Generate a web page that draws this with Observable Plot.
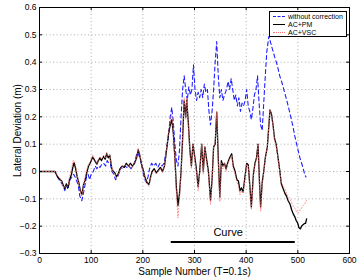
<!DOCTYPE html>
<html><head><meta charset="utf-8">
<script src="https://cdn.jsdelivr.net/npm/d3@7"></script>
<script src="https://cdn.jsdelivr.net/npm/@observablehq/plot@0.6"></script>
<style>
body{margin:0;background:#fff;}
#wrap{position:relative;width:357px;height:277px;font-family:Arial,"Liberation Sans",Helvetica,sans-serif;}
#legend{position:absolute;left:269px;top:11px;width:78px;height:26px;border:1px solid #000;background:#fff;box-sizing:border-box;font-size:7px;color:#000;}
.row{position:absolute;left:3px;height:8px;display:flex;align-items:center;white-space:nowrap;}
.sw{width:12px;height:0;margin-right:3px;}
</style></head>
<body>
<div id="wrap"></div>
<script>
const xDomain = [0, 600];
const yDomain = [-0.3, 0.6];
const xTicks = [0, 100, 200, 300, 400, 500, 600];
const xTickLabels = ["0", "100", "200", "300", "400", "500", "600"];
const yTicks = [-0.3, -0.2, -0.1, 0, 0.1, 0.2, 0.3, 0.4, 0.5, 0.6];
const yTickLabels = ["\u22120.3", "\u22120.2", "\u22120.1", "0", "0.1", "0.2", "0.3", "0.4", "0.5", "0.6"];
const xLabel = "Sample Number (T=0.1s)";
const yLabel = "Lateral Deviation (m)";
const seriesNames = ["without correction", "AC+PM", "AC+VSC"];
const curveLabel = "Curve";
const curveRange = [255, 495];
const curveY = -0.258;
const curveTextX = 365;

// [sample, deviation (m)]
const withoutCorrection = [[0,0],[30,0],[35,-0.02],[40,-0.035],[45,-0.05],[49,-0.07],[52,-0.05],[55,-0.065],[59,-0.03],[63,-0.02],[66,-0.01],[69,-0.02],[72,-0.035],[75,-0.05],[78,-0.09],[82,-0.107],[85,-0.08],[88,-0.05],[91,-0.02],[94,-0.01],[97,-0.03],[100,-0.01],[104,0.0],[108,0.02],[111,0.01],[114,0.02],[117,0.015],[120,0.025],[124,0.03],[128,0.02],[131,0.04],[134,0.03],[137,0.03],[140,0.0],[144,-0.01],[147,-0.03],[150,-0.025],[153,-0.01],[157,0.015],[161,0.01],[165,0.02],[169,0.015],[173,0.02],[177,0.01],[181,0.02],[185,0.04],[189,0.07],[192,0.06],[195,0.05],[198,0.02],[201,-0.01],[204,-0.03],[207,-0.04],[210,-0.02],[213,0.01],[217,0.03],[221,0.02],[225,0.03],[229,0.015],[233,0.03],[237,0.02],[241,0.03],[245,0.07],[249,0.12],[253,0.2],[256,0.235],[259,0.18],[262,0.1],[265,0.04],[268,0.02],[271,0.08],[274,0.2],[277,0.3],[280,0.35],[283,0.3],[286,0.26],[289,0.31],[292,0.28],[295,0.3],[298,0.39],[301,0.3],[304,0.26],[307,0.29],[310,0.27],[313,0.3],[316,0.27],[319,0.32],[322,0.29],[325,0.3],[328,0.22],[331,0.17],[334,0.22],[337,0.3],[340,0.4],[343,0.475],[346,0.35],[349,0.27],[352,0.3],[355,0.26],[358,0.28],[362,0.3],[365,0.33],[368,0.3],[371,0.34],[374,0.3],[377,0.26],[380,0.28],[383,0.24],[386,0.27],[389,0.22],[392,0.25],[395,0.24],[398,0.26],[401,0.3],[404,0.24],[407,0.22],[410,0.19],[413,0.23],[416,0.28],[419,0.3],[422,0.35],[425,0.25],[428,0.17],[431,0.15],[434,0.25],[437,0.35],[440,0.44],[444,0.495],[449,0.46],[455,0.42],[460,0.39],[465,0.35],[470,0.32],[475,0.285],[480,0.25],[485,0.21],[490,0.17],[494,0.13],[499,0.09],[504,0.05],[509,0.02],[514,-0.015],[516,-0.02]];

const acPM = [[0,0],[30,0],[35,-0.02],[40,-0.03],[43,-0.035],[46,-0.05],[49,-0.063],[52,-0.045],[55,-0.06],[58,-0.03],[62,-0.01],[65,0.02],[67,0.032],[70,0.01],[73,-0.02],[76,-0.04],[79,-0.07],[82,-0.085],[85,-0.05],[88,-0.033],[92,0.0],[95,0.02],[98,0.03],[103,0.053],[107,0.04],[111,0.027],[114,0.04],[117,0.05],[120,0.04],[124,0.055],[127,0.045],[130,0.065],[133,0.05],[136,0.06],[140,0.01],[143,0.0],[146,-0.005],[149,-0.02],[152,-0.01],[156,0.01],[160,0.02],[164,0.015],[168,0.03],[172,0.02],[176,0.03],[180,0.02],[184,0.03],[188,0.05],[191,0.08],[194,0.06],[197,0.03],[200,0.01],[204,-0.02],[208,-0.04],[212,-0.048],[215,-0.02],[218,0.0],[222,0.01],[226,-0.005],[230,0.005],[234,0.015],[238,0.0],[242,0.02],[246,0.08],[250,0.14],[253,0.17],[256,0.19],[259,0.14],[262,0.05],[265,-0.06],[268,-0.125],[271,-0.08],[274,0.0],[277,0.12],[280,0.26],[283,0.2],[285,0.26],[288,0.18],[291,0.08],[294,0.02],[297,0.1],[300,0.06],[303,0.02],[307,-0.055],[310,0.0],[314,0.1],[317,0.0],[320,0.09],[323,0.05],[327,0.0],[331,-0.105],[334,-0.03],[337,0.09],[340,0.1],[343,0.217],[346,0.05],[349,-0.094],[352,0.04],[355,0.02],[358,0.03],[361,0.01],[364,0.03],[368,0.05],[372,0.065],[375,0.02],[378,0.004],[382,-0.03],[385,-0.035],[388,-0.07],[391,-0.06],[394,-0.075],[397,-0.03],[401,0.03],[404,0.025],[407,-0.05],[410,-0.13],[414,-0.01],[417,0.03],[420,0.05],[423,0.1],[426,-0.05],[428,-0.13],[431,-0.04],[434,0.0],[437,0.05],[441,0.09],[444,0.17],[446,0.225],[449,0.21],[452,0.17],[455,0.12],[458,0.1],[461,0.06],[465,0.004],[468,-0.045],[472,-0.065],[475,-0.08],[478,-0.09],[481,-0.106],[485,-0.12],[488,-0.14],[491,-0.155],[494,-0.165],[497,-0.18],[500,-0.19],[502,-0.205],[505,-0.21],[507,-0.2],[510,-0.195],[513,-0.19],[515,-0.19],[517,-0.173]];

const acVSC = [[0,0],[30,0],[35,-0.015],[40,-0.025],[43,-0.04],[46,-0.055],[49,-0.06],[52,-0.05],[55,-0.055],[58,-0.02],[62,0.01],[65,0.04],[67,0.04],[70,0.02],[73,-0.01],[76,-0.045],[79,-0.075],[82,-0.09],[85,-0.055],[88,-0.025],[92,0.01],[95,0.03],[98,0.035],[103,0.06],[107,0.045],[111,0.03],[114,0.045],[117,0.055],[120,0.045],[124,0.06],[127,0.05],[130,0.07],[133,0.055],[136,0.06],[140,0.015],[143,-0.005],[146,-0.01],[149,-0.025],[152,-0.015],[156,0.005],[160,0.02],[164,0.02],[168,0.025],[172,0.02],[176,0.025],[180,0.015],[184,0.03],[188,0.055],[191,0.085],[194,0.065],[197,0.035],[200,0.005],[204,-0.025],[208,-0.045],[212,-0.055],[215,-0.025],[218,-0.005],[222,0.005],[226,-0.01],[230,0.0],[234,0.01],[238,-0.005],[242,0.02],[246,0.085],[250,0.15],[253,0.18],[256,0.21],[259,0.15],[262,0.04],[265,-0.08],[268,-0.17],[271,-0.1],[274,-0.01],[277,0.13],[280,0.27],[283,0.19],[285,0.27],[288,0.17],[291,0.07],[294,0.01],[297,0.1],[300,0.05],[303,0.01],[307,-0.07],[310,-0.01],[314,0.1],[317,-0.01],[320,0.09],[323,0.04],[327,-0.01],[331,-0.12],[334,-0.04],[337,0.09],[340,0.11],[343,0.22],[346,0.04],[349,-0.11],[352,0.03],[355,0.01],[358,0.03],[361,0.0],[364,0.025],[368,0.045],[372,0.06],[375,0.01],[378,-0.005],[382,-0.04],[385,-0.05],[388,-0.085],[391,-0.07],[394,-0.08],[397,-0.04],[401,0.025],[404,0.02],[407,-0.06],[410,-0.14],[414,-0.02],[417,0.025],[420,0.045],[423,0.1],[426,-0.06],[428,-0.145],[431,-0.05],[434,-0.005],[437,0.045],[441,0.09],[444,0.17],[446,0.225],[449,0.205],[452,0.165],[455,0.115],[458,0.095],[461,0.055],[465,0.0],[468,-0.04],[472,-0.055],[475,-0.065],[478,-0.08],[481,-0.09],[485,-0.1],[488,-0.115],[491,-0.125],[494,-0.135],[497,-0.145],[500,-0.152],[503,-0.145],[507,-0.135],[510,-0.125],[514,-0.115],[517,-0.105]];

const W = 357, H = 277;
const mL = 39, mR = 8, mT = 7, mB = 24;
const plotH = H - mT - mB;
const plotW = W - mL - mR;
const tick = 3;
const gridStyle = {stroke: "#9a9a9a", strokeDasharray: "1,2.5", strokeWidth: 0.8};

const chart = Plot.plot({
  width: W, height: H,
  marginLeft: mL, marginRight: mR, marginTop: mT, marginBottom: mB,
  x: {domain: xDomain},
  y: {domain: yDomain},
  style: {fontFamily: "Arial, 'Liberation Sans', Helvetica, sans-serif", fontSize: "8.5px", background: "#fff", color: "#000"},
  marks: [
    Plot.ruleX(xTicks, {x: d => d, ...gridStyle}),
    Plot.ruleY(yTicks, {y: d => d, ...gridStyle}),
    Plot.line(withoutCorrection, {x: d => d[0], y: d => d[1], stroke: "#1f1fff", strokeWidth: 1.1, strokeDasharray: "4,3"}),
    Plot.line(acPM, {x: d => d[0], y: d => d[1], stroke: "#000", strokeWidth: 1.3}),
    Plot.line(acVSC, {x: d => d[0], y: d => d[1], stroke: "#ff7070", strokeWidth: 0.8, strokeDasharray: "1,2"}),
    Plot.ruleX(xTicks, {x: d => d, insetTop: plotH - tick, stroke: "#000"}),
    Plot.ruleX(xTicks, {x: d => d, insetBottom: plotH - tick, stroke: "#000"}),
    Plot.ruleY(yTicks, {y: d => d, insetRight: plotW - tick, stroke: "#000"}),
    Plot.ruleY(yTicks, {y: d => d, insetLeft: plotW - tick, stroke: "#000"}),
    Plot.frame({stroke: "#000", strokeWidth: 1}),
    Plot.axisX(xTicks, {tickSize: 0, tickPadding: 3, tickFormat: d => xTickLabels[xTicks.indexOf(d)], label: null, fontSize: 8.5}),
    Plot.axisY(yTicks, {tickSize: 0, tickPadding: 3, tickFormat: d => yTickLabels[yTicks.indexOf(d)], label: null, fontSize: 8.5}),
    Plot.ruleY([curveY], {y: d => d, x1: curveRange[0], x2: curveRange[1], stroke: "#000", strokeWidth: 2}),
    Plot.text([curveLabel], {x: curveTextX, y: curveY, text: d => d, dy: -10, fontSize: 11, lineAnchor: "middle", textAnchor: "middle"}),
    Plot.text([xLabel], {frameAnchor: "bottom", text: d => d, dy: 18, fontSize: 10, lineAnchor: "middle", textAnchor: "middle"}),
    Plot.text([yLabel], {frameAnchor: "left", text: d => d, dx: -22, rotate: -90, fontSize: 10, lineAnchor: "middle", textAnchor: "middle"})
  ]
});

const wrap = document.getElementById("wrap");
wrap.appendChild(chart);

const legend = document.createElement("div");
legend.id = "legend";
const swatches = ["1px dashed #1f1fff", "1.2px solid #000", "1px dotted #ff7070"];
seriesNames.forEach((name, i) => {
  const row = document.createElement("div");
  row.className = "row";
  row.style.top = (0 + i * 8) + "px";
  const sw = document.createElement("span");
  sw.className = "sw";
  sw.style.borderTop = swatches[i];
  const t = document.createElement("span");
  t.textContent = name;
  row.appendChild(sw);
  row.appendChild(t);
  legend.appendChild(row);
});
wrap.appendChild(legend);
</script>
</body></html>
